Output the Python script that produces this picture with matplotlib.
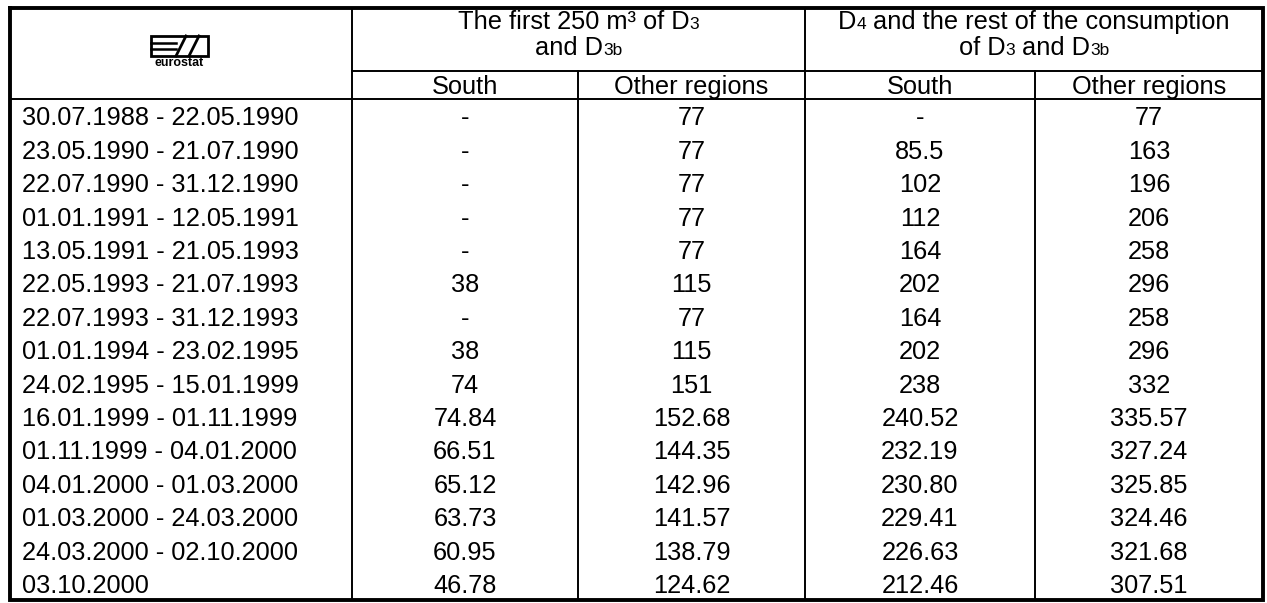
import matplotlib
matplotlib.use('Agg')
import matplotlib.pyplot as plt
from matplotlib.patches import Rectangle

plt.rcParams['font.family'] = ['Liberation Sans', 'DejaVu Sans']

# table contents
periods = ['30.07.1988 - 22.05.1990', '23.05.1990 - 21.07.1990', '22.07.1990 - 31.12.1990',
           '01.01.1991 - 12.05.1991', '13.05.1991 - 21.05.1993', '22.05.1993 - 21.07.1993',
           '22.07.1993 - 31.12.1993', '01.01.1994 - 23.02.1995', '24.02.1995 - 15.01.1999',
           '16.01.1999 - 01.11.1999', '01.11.1999 - 04.01.2000', '04.01.2000 - 01.03.2000',
           '01.03.2000 - 24.03.2000', '24.03.2000 - 02.10.2000', '03.10.2000']
first_south = ['-', '-', '-', '-', '-', '38', '-', '38', '74', '74.84', '66.51', '65.12',
               '63.73', '60.95', '46.78']
first_other = ['77', '77', '77', '77', '77', '115', '77', '115', '151', '152.68', '144.35',
               '142.96', '141.57', '138.79', '124.62']
rest_south = ['-', '85.5', '102', '112', '164', '202', '164', '202', '238', '240.52', '232.19',
              '230.80', '229.41', '226.63', '212.46']
rest_other = ['77', '163', '196', '206', '258', '296', '258', '296', '332', '335.57', '327.24',
              '325.85', '324.46', '321.68', '307.51']
sub_headers = ['South', 'Other regions', 'South', 'Other regions']

W, H = 1267, 603
fig = plt.figure(figsize=(W / 100, H / 100), dpi=100)
ax = fig.add_axes([0, 0, 1, 1])
ax.set_xlim(0, W)
ax.set_ylim(H, 0)
ax.axis('off')

# grid geometry (pixels)
xs = [10, 352, 578, 805, 1035, 1263]
top, h1, h2, bottom = 8, 71, 99, 600
nrows = len(periods)
rh = (bottom - h2) / nrows
FS = 18.3
SMALL = 12.5
thin = 1.4
thick = 2.8

# inner lines
for i, x in enumerate(xs[1:-1]):
    y0 = h1 if i in (1, 3) else top
    ax.plot([x, x], [y0, bottom], color='black', lw=thin)
ax.plot([xs[1], xs[-1]], [h1, h1], color='black', lw=thin)
ax.plot([xs[0], xs[-1]], [h2, h2], color='black', lw=thin)
# outer frame
ax.plot([xs[0], xs[-1], xs[-1], xs[0], xs[0]], [top, top, bottom, bottom, top],
        color='black', lw=thick, solid_joinstyle='miter')

renderer = fig.canvas.get_renderer()


def text_width(s, fs):
    t1 = ax.text(0, 0, '|' + s + '|', fontsize=fs)
    t2 = ax.text(0, 0, '||', fontsize=fs)
    w = t1.get_window_extent(renderer).width - t2.get_window_extent(renderer).width
    t1.remove()
    t2.remove()
    return w


def rich(xc, y, parts):
    total = sum(text_width(s, fs) for s, fs in parts)
    x = xc - total / 2
    for s, fs in parts:
        ax.text(x, y, s, fontsize=fs, ha='left', va='baseline')
        x += text_width(s, fs)


c1 = (xs[1] + xs[3]) / 2
c2 = (xs[3] + xs[5]) / 2
rich(c1, 29, [('The first 250 m³ of D', FS), ('3', SMALL)])
rich(c1, 55, [('and D', FS), ('3b', SMALL)])
rich(c2, 29, [('D', FS), ('4', SMALL), (' and the rest of the consumption', FS)])
rich(c2, 55, [('of D', FS), ('3', SMALL), (' and D', FS), ('3b', SMALL)])

for i, lab in enumerate(sub_headers):
    ax.text((xs[i + 1] + xs[i + 2]) / 2, h2 - 5, lab, fontsize=FS, ha='center', va='baseline')

cols = [first_south, first_other, rest_south, rest_other]
for r in range(nrows):
    yb = h2 + (r + 1) * rh - 7
    ax.text(xs[0] + 12, yb, periods[r], fontsize=FS, ha='left', va='baseline')
    for j, col in enumerate(cols):
        ax.text((xs[j + 1] + xs[j + 2]) / 2, yb, col[r], fontsize=FS, ha='center', va='baseline')

# eurostat logo
lx, ly, lw_, lh = 151, 36, 57, 20
ax.add_patch(Rectangle((lx, ly), lw_, lh, fill=False, ec='black', lw=2))
ax.plot([lx, lx + 25], [ly + lh * 0.36, ly + lh * 0.36], color='black', lw=1.8)
ax.plot([lx, lx + 25], [ly + lh * 0.66, ly + lh * 0.66], color='black', lw=1.8)
ax.plot([lx + 25, lx + 35], [ly + lh, ly], color='black', lw=2)
ax.plot([lx + 38, lx + 48], [ly + lh, ly], color='black', lw=2)
ax.text(lx + lw_ / 2, ly + lh + 7, 'eurostat', fontsize=9, fontweight='bold',
        ha='center', va='center')

fig.savefig('out.png', dpi=100)
